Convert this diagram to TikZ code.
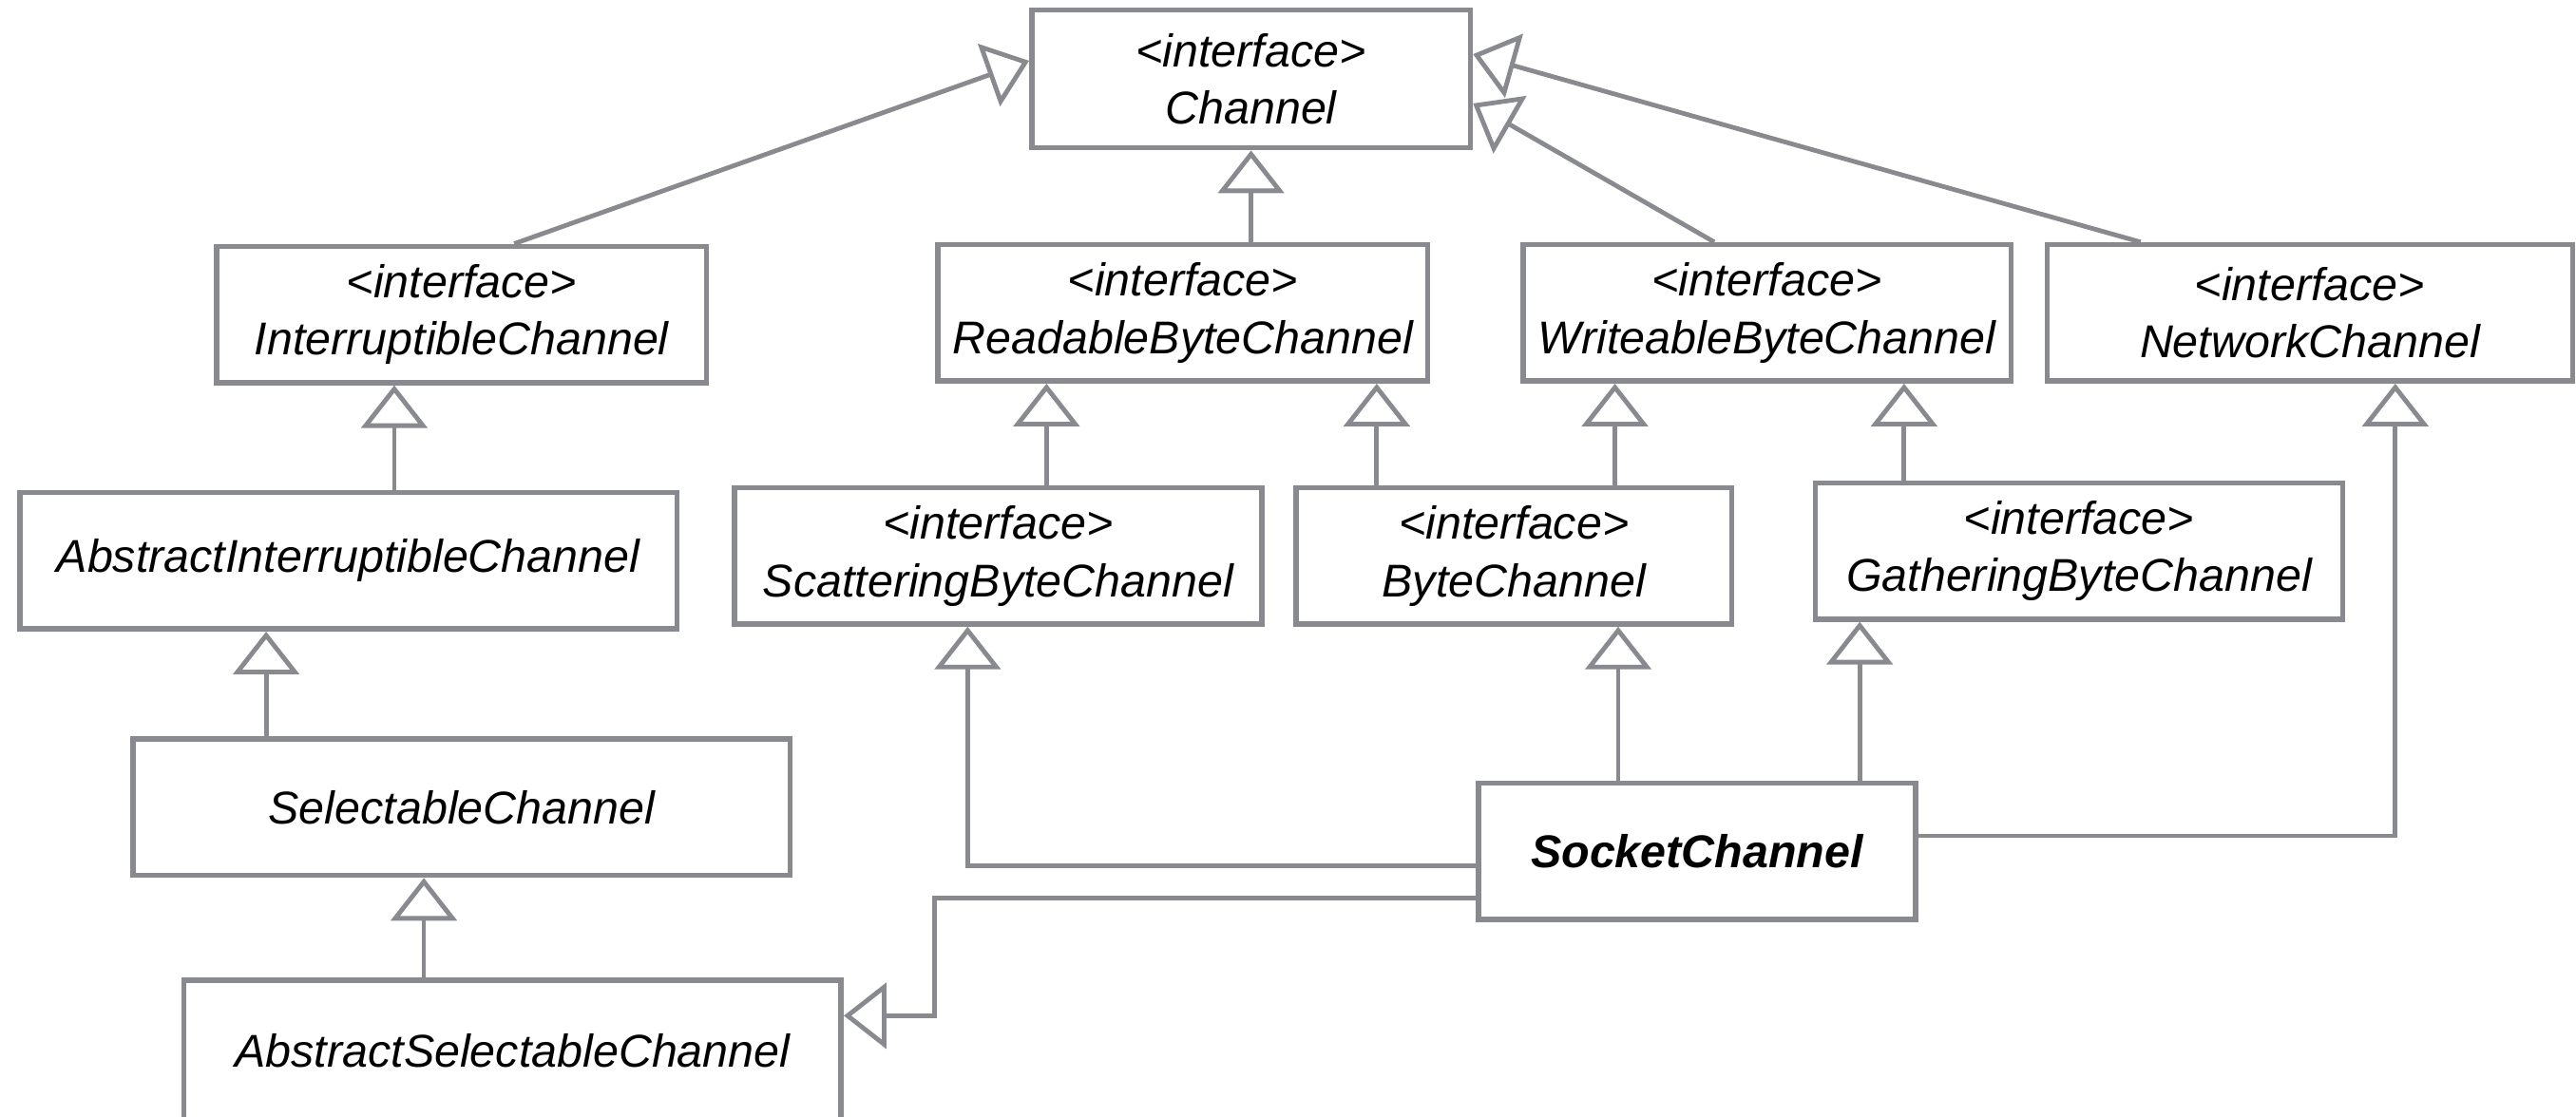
\documentclass[tikz,border=0pt]{standalone}
\usepackage{fontspec}
\setmainfont{Liberation Sans}
\usetikzlibrary{arrows.meta}
\definecolor{lg}{RGB}{136,138,143}
\begin{document}
\begin{tikzpicture}[x=1pt,y=-1pt,
  box/.style={draw=lg,line width=3.2pt,fill=white,inner sep=0pt,align=center,
    font=\fontsize{28}{35}\selectfont\itshape,text=black},
  inh/.style={draw=lg,line width=2.8pt,
    -{Triangle[fill=white,length=26pt,width=40pt]}}]
\useasboundingbox (0,0) rectangle (1568,680);
% nodes
\node[box,minimum width=267pt,minimum height=84pt] (ch) at (761.5,48) {<interface>\\Channel};
\node[box,minimum width=298pt,minimum height=83pt] (ic) at (281,191.5) {<interface>\\InterruptibleChannel};
\node[box,minimum width=298pt,minimum height=83pt] (rbc) at (720,190.5) {<interface>\\ReadableByteChannel};
\node[box,minimum width=297pt,minimum height=83pt] (wbc) at (1075.5,190.5) {<interface>\\WriteableByteChannel};
\node[box,minimum width=320pt,minimum height=83pt] (nc) at (1406,190.5) {<interface>\\NetworkChannel};
\node[box,minimum width=400pt,minimum height=83pt] (aic) at (212,341.5) {AbstractInterruptibleChannel};
\node[box,minimum width=321pt,minimum height=83pt] (sbc) at (607.5,338.5) {<interface>\\ScatteringByteChannel};
\node[box,minimum width=265pt,minimum height=83pt] (bc) at (921.5,338.5) {<interface>\\ByteChannel};
\node[box,minimum width=321pt,minimum height=83pt] (gbc) at (1265.5,335.5) {<interface>\\GatheringByteChannel};
\node[box,minimum width=400pt,minimum height=83pt] (sc) at (281,491.5) {SelectableChannel};
\node[box,minimum width=266pt,minimum height=83pt,font=\fontsize{28}{35}\selectfont\itshape\bfseries] (soc) at (1033,518.5) {SocketChannel};
\node[box,minimum width=400pt,minimum height=86pt] (asc) at (312,640) {AbstractSelectableChannel};
% helper x positions
\coordinate (x1) at (240,0);
\coordinate (x2) at (162,0);
\coordinate (x3) at (258,0);
\coordinate (x4) at (637,0);
\coordinate (x5) at (838,0);
\coordinate (x6) at (983,0);
\coordinate (x7) at (1159,0);
\coordinate (x8) at (985,0);
\coordinate (x9) at (1132,0);
\coordinate (x10) at (1458,0);
\coordinate (x11) at (589,0);
\coordinate (x12) at (569,0);
% diagonal connectors to Channel
\draw[inh] ([xshift=32pt]ic.north) -- ([yshift=11pt]ch.west);
\draw[inh] ([xshift=-32pt]wbc.north) -- ([yshift=-15pt]ch.east);
\draw[inh] ([xshift=-103pt]nc.north) -- ([yshift=15pt]ch.east);
\draw[inh] (ch.south |- rbc.north) -- (ch.south);
% vertical connectors
\draw[inh] (aic.north -| x1) -- (ic.south -| x1);
\draw[inh] (sc.north -| x2) -- (aic.south -| x2);
\draw[inh] (asc.north -| x3) -- (sc.south -| x3);
\draw[inh] (sbc.north -| x4) -- (rbc.south -| x4);
\draw[inh] (bc.north -| x5) -- (rbc.south -| x5);
\draw[inh] (bc.north -| x6) -- (wbc.south -| x6);
\draw[inh] (gbc.north -| x7) -- (wbc.south -| x7);
\draw[inh] (soc.north -| x8) -- (bc.south -| x8);
\draw[inh] (soc.north -| x9) -- (gbc.south -| x9);
% elbow connectors from SocketChannel
\draw[inh] ([yshift=9.5pt]soc.east) -| (nc.south -| x10);
\draw[inh] ([yshift=-8.5pt]soc.west) -| (sbc.south -| x11);
\coordinate (ascin) at ([yshift=21.5pt]asc.east);
\coordinate (bend) at (ascin -| x12);
\draw[inh] ([yshift=-28.5pt]soc.west) -| (bend) -- (ascin);
\end{tikzpicture}
\end{document}
